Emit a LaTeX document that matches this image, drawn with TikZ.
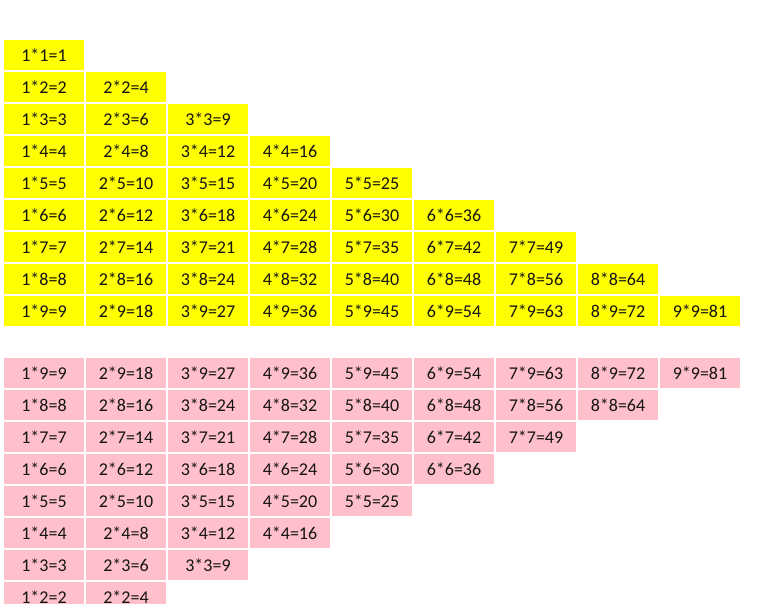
\documentclass[tikz,border=0pt]{standalone}
\usepackage{fontspec}
\setmainfont{Carlito}
\definecolor{cellyellow}{HTML}{FFFF00}
\definecolor{cellpink}{HTML}{FFC0CB}
\definecolor{celltext}{HTML}{141414}
\tikzset{
  cellbox/.style={minimum width=80pt, minimum height=30pt, inner sep=0pt, draw=none,
    text=celltext, font=\fontsize{18}{21}\selectfont, anchor=center},
  ycell/.style={cellbox, fill=cellyellow},
  pcell/.style={cellbox, fill=cellpink}
}
\begin{document}
\begin{tikzpicture}[x=1pt,y=-1pt]
\useasboundingbox (0,0) rectangle (773,603);
\clip (0,0) rectangle (773,603);
% yellow triangle
\foreach \i in {1,...,9}{
  \foreach \j in {1,...,\i}{
    \pgfmathtruncatemacro{\prod}{\i*\j}
    \node[ycell] (y-\i-\j) at ({44+82*(\j-1)},{55+32*(\i-1)}) {\j*\i=\prod};
  }
}
% pink triangle (reversed)
\foreach \k in {1,...,8}{
  \pgfmathtruncatemacro{\n}{10-\k}
  \foreach \j in {1,...,\n}{
    \pgfmathtruncatemacro{\prod}{\n*\j}
    \node[pcell] (p-\n-\j) at ({44+82*(\j-1)},{373+32*(\k-1)}) {\j*\n=\prod};
  }
}
\end{tikzpicture}
\end{document}
